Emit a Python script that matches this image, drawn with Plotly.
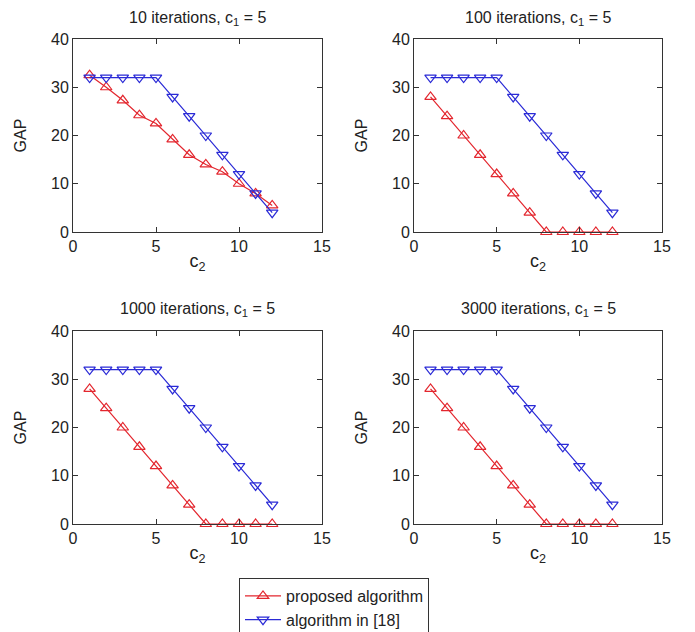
import plotly.graph_objects as go

# c2 values shared by all panels
c2 = [1, 2, 3, 4, 5, 6, 7, 8, 9, 10, 11, 12]

# GAP of the proposed algorithm per iteration budget
proposed_10 = [32.5, 30, 27.3, 24.2, 22.5, 19.2, 16, 14, 12.5, 10, 8, 5.5]
proposed_100 = [28, 24, 20, 16, 12, 8, 4, 0, 0, 0, 0, 0]
proposed_1000 = [28, 24, 20, 16, 12, 8, 4, 0, 0, 0, 0, 0]
proposed_3000 = [28, 24, 20, 16, 12, 8, 4, 0, 0, 0, 0, 0]

# GAP of the reference algorithm [18]
ref_10 = [32, 32, 32, 32, 32, 28, 24, 20, 16, 12, 8, 4]
ref_100 = [32, 32, 32, 32, 32, 28, 24, 20, 16, 12, 8, 4]
ref_1000 = [32, 32, 32, 32, 32, 28, 24, 20, 16, 12, 8, 4]
ref_3000 = [32, 32, 32, 32, 32, 28, 24, 20, 16, 12, 8, 4]

titles = ["10 iterations, c<sub>1</sub> = 5", "100 iterations, c<sub>1</sub> = 5",
          "1000 iterations, c<sub>1</sub> = 5", "3000 iterations, c<sub>1</sub> = 5"]
proposed = [proposed_10, proposed_100, proposed_1000, proposed_3000]
reference = [ref_10, ref_100, ref_1000, ref_3000]

W, H = 695, 632
RED = "#e3262e"
BLUE = "#2a2ad6"
TXT = "#222222"
FONT = "Liberation Sans, Arial, sans-serif"

# panel rectangles in pixels: (left, right, top, bottom)
panels = [(73, 322, 39, 232), (414, 662, 39, 232),
          (73, 322, 331, 524), (414, 662, 331, 524)]

fig = go.Figure()
annotations = []
layout_axes = {}

for i, (l, r, t, b) in enumerate(panels):
    n = i + 1
    xa = "x" if n == 1 else f"x{n}"
    ya = "y" if n == 1 else f"y{n}"
    fig.add_trace(go.Scatter(
        x=c2, y=proposed[i], mode="lines+markers", name="proposed algorithm",
        line=dict(color=RED, width=1.2),
        marker=dict(symbol="triangle-up-open", size=10, color=RED, line=dict(width=1.2)),
        xaxis=xa, yaxis=ya, showlegend=(i == 0), cliponaxis=False))
    fig.add_trace(go.Scatter(
        x=c2, y=reference[i], mode="lines+markers", name="algorithm in [18]",
        line=dict(color=BLUE, width=1.2),
        marker=dict(symbol="triangle-down-open", size=10, color=BLUE, line=dict(width=1.2)),
        xaxis=xa, yaxis=ya, showlegend=(i == 0), cliponaxis=False))

    common = dict(showgrid=False, zeroline=False, showline=True, linecolor="#333333",
                  linewidth=1, mirror="allticks", ticks="inside", ticklen=5,
                  tickcolor="#333333", tickfont=dict(size=16, color=TXT, family=FONT))
    xkey = "xaxis" if n == 1 else f"xaxis{n}"
    ykey = "yaxis" if n == 1 else f"yaxis{n}"
    layout_axes[xkey] = dict(common, domain=[l / W, r / W], range=[0, 15],
                             tickvals=[0, 5, 10, 15], anchor=ya,
                             title=dict(text="c<sub>2</sub>", standoff=0,
                                        font=dict(size=18, color=TXT, family=FONT)))
    layout_axes[ykey] = dict(common, domain=[1 - b / H, 1 - t / H], range=[0, 40],
                             tickvals=[0, 10, 20, 30, 40], anchor=xa,
                             title=dict(text="GAP", standoff=20,
                                        font=dict(size=16, color=TXT, family=FONT)))
    annotations.append(dict(text=titles[i], x=(l + r) / 2 / W, y=1 - (t - 21) / H,
                            xref="paper", yref="paper", showarrow=False,
                            xanchor="center", yanchor="middle",
                            font=dict(size=16, color=TXT, family=FONT)))

fig.update_layout(
    width=W, height=H,
    margin=dict(l=0, r=0, t=0, b=0, autoexpand=False),
    paper_bgcolor="white", plot_bgcolor="white",
    annotations=annotations,
    legend=dict(x=239 / W, y=1 - 578 / H, xanchor="left", yanchor="top",
                bordercolor="#333333", borderwidth=1, bgcolor="white",
                font=dict(size=16, color=TXT, family=FONT),
                tracegroupgap=0, itemwidth=36),
    **layout_axes)

fig.write_html("out.html")
